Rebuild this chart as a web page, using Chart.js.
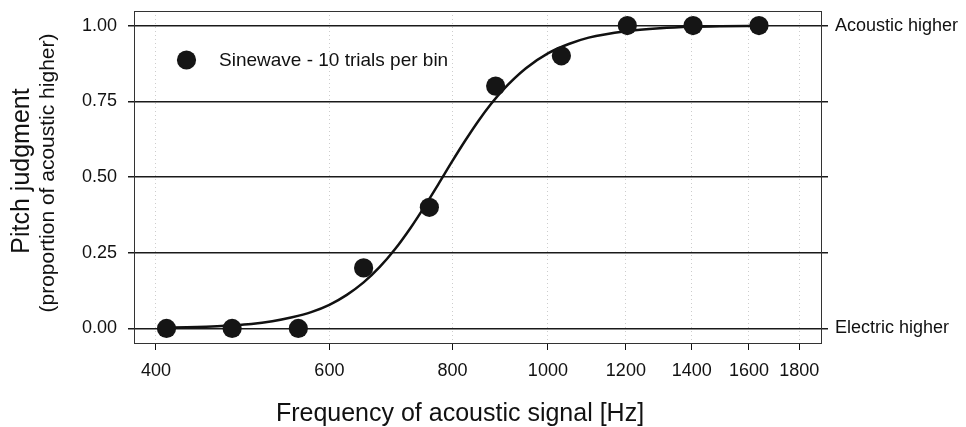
<!DOCTYPE html>
<html>
<head>
<meta charset="utf-8">
<script src="https://cdn.jsdelivr.net/npm/chart.js@4.4.1/dist/chart.umd.min.js"></script>
<style>
  html, body { margin: 0; padding: 0; background: #fff; }
  #grafico { display: block; }
</style>
</head>
<body>
<canvas id="grafico" width="966" height="427"></canvas>
<script>
// dados
const binHz = [410, 478, 558, 650, 758, 885, 1032, 1204, 1404, 1638];
const propHigher = [0, 0, 0, 0.2, 0.4, 0.8, 0.9, 1, 1, 1];

// curva ajustada (lida ponto a ponto)
const fitHz = [410, 430, 450, 475, 500, 525, 550, 575, 600, 625, 650, 675, 700, 725, 750, 775,
               800, 825, 850, 875, 900, 950, 1000, 1050, 1100, 1200, 1300, 1400, 1500, 1638];
const fitProp = [0.003, 0.004, 0.006, 0.010, 0.015, 0.024, 0.037, 0.054, 0.078, 0.111, 0.152, 0.203,
                 0.263, 0.331, 0.404, 0.479, 0.553, 0.622, 0.685, 0.740, 0.787, 0.859, 0.908, 0.939,
                 0.960, 0.981, 0.991, 0.996, 0.998, 0.999];

const xTicks = [400, 600, 800, 1000, 1200, 1400, 1600, 1800];
const yTicks = [0, 0.25, 0.5, 0.75, 1];
const legendLabel = 'Sinewave - 10 trials per bin';

const fonte = '"Liberation Sans", Arial, Helvetica, sans-serif';

const molduraETextos = {
  id: 'molduraETextos',
  afterDraw(chart) {
    const ctx = chart.ctx;
    const a = chart.chartArea;
    ctx.save();
    // moldura
    ctx.strokeStyle = '#333';
    ctx.lineWidth = 1;
    ctx.strokeRect(Math.round(a.left) + 0.5, Math.round(a.top) + 0.5,
                   Math.round(a.right - a.left) - 1, Math.round(a.bottom - a.top));
    ctx.fillStyle = '#111';

    // titulo y
    ctx.save();
    ctx.translate(29, 171);
    ctx.rotate(-Math.PI / 2);
    ctx.textAlign = 'center';
    ctx.textBaseline = 'alphabetic';
    ctx.font = '25px ' + fonte;
    ctx.fillText('Pitch judgment', 0, 0);
    ctx.restore();

    ctx.save();
    ctx.translate(54, 173);
    ctx.rotate(-Math.PI / 2);
    ctx.textAlign = 'center';
    ctx.textBaseline = 'alphabetic';
    ctx.font = '21px ' + fonte;
    ctx.fillText('(proportion of acoustic higher)', 0, 0);
    ctx.restore();

    // titulo x
    ctx.textAlign = 'center';
    ctx.textBaseline = 'alphabetic';
    ctx.font = '25px ' + fonte;
    ctx.fillText('Frequency of acoustic signal [Hz]', 460, 421);

    // legenda
    ctx.beginPath();
    ctx.arc(186.5, 60, 9.6, 0, Math.PI * 2);
    ctx.fillStyle = '#151515';
    ctx.fill();
    ctx.fillStyle = '#111';
    ctx.textAlign = 'left';
    ctx.textBaseline = 'middle';
    ctx.font = '19px ' + fonte;
    ctx.fillText(legendLabel, 219, 61);
    ctx.restore();
  }
};

function semPadding(s) {
  s.paddingTop = 0;
  s.paddingBottom = 0;
  s.paddingLeft = 0;
  s.paddingRight = 0;
}

new Chart(document.getElementById('grafico'), {
  type: 'scatter',
  data: {
    datasets: [
      {
        label: 'fit',
        data: fitHz.map((f, i) => ({ x: f, y: fitProp[i] })),
        showLine: true,
        borderColor: '#111',
        borderWidth: 2.5,
        pointRadius: 0,
        cubicInterpolationMode: 'monotone',
        order: 2
      },
      {
        label: legendLabel,
        data: binHz.map((f, i) => ({ x: f, y: propHigher[i] })),
        backgroundColor: '#151515',
        borderWidth: 0,
        pointRadius: 9.6,
        order: 1
      }
    ]
  },
  options: {
    responsive: false,
    animation: false,
    devicePixelRatio: 1,
    layout: { padding: { top: 11, right: 0, bottom: 0, left: 0 } },
    plugins: {
      legend: { display: false },
      tooltip: { enabled: false }
    },
    scales: {
      x: {
        type: 'logarithmic',
        min: 380,
        max: 1898,
        afterBuildTicks: (s) => { s.ticks = xTicks.map(v => ({ value: v })); },
        afterFit: (s) => { s.height = 84; semPadding(s); },
        ticks: {
          callback: (v) => String(v),
          color: '#111',
          font: { family: fonte, size: 18 },
          padding: 10,
          maxRotation: 0,
          autoSkip: false
        },
        grid: {
          color: '#cdcdcd',
          lineWidth: 1,
          tickColor: '#111',
          tickWidth: 1,
          tickLength: 7,
          tickBorderDash: []
        },
        border: { display: false, dash: [1, 3] }
      },
      y: {
        position: 'left',
        min: -0.048,
        max: 1.048,
        afterBuildTicks: (s) => { s.ticks = yTicks.map(v => ({ value: v })); },
        afterFit: (s) => { s.width = 134; semPadding(s); },
        ticks: {
          callback: (v) => Number(v).toFixed(2),
          color: '#111',
          font: { family: fonte, size: 18 },
          padding: 11
        },
        grid: {
          color: '#1a1a1a',
          lineWidth: 1.5,
          tickLength: 6
        },
        border: { display: false }
      },
      yRight: {
        position: 'right',
        min: -0.048,
        max: 1.048,
        afterBuildTicks: (s) => { s.ticks = yTicks.map(v => ({ value: v })); },
        afterFit: (s) => { s.width = 144; semPadding(s); },
        ticks: {
          callback: (v) => v === 1 ? 'Acoustic higher' : (v === 0 ? 'Electric higher' : ''),
          color: '#111',
          font: { family: fonte, size: 18 },
          padding: 7
        },
        grid: {
          drawOnChartArea: false,
          color: '#1a1a1a',
          lineWidth: 1.5,
          tickLength: 6
        },
        border: { display: false }
      }
    }
  },
  plugins: [molduraETextos]
});
</script>
</body>
</html>
